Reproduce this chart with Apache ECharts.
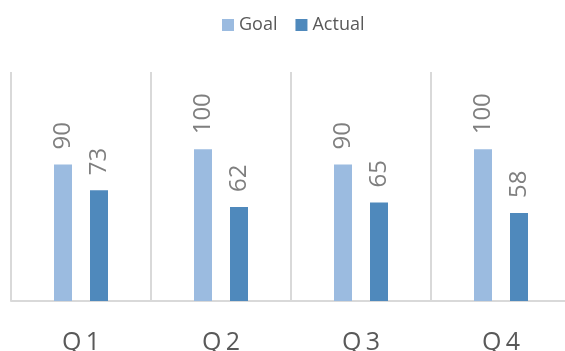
<!DOCTYPE html>
<html><head><meta charset="utf-8">
<script src="https://cdn.jsdelivr.net/npm/echarts@6/dist/echarts.min.js"></script>
<style>html,body{margin:0;padding:0;background:#fff}#c{width:565px;height:351px}</style>
</head><body><div id="c"></div>
<script>
var categories = ['Q1', 'Q2', 'Q3', 'Q4'];
var goal = [90, 100, 90, 100];
var actual = [73, 62, 65, 58];
var chart = echarts.init(document.getElementById('c'), null, {renderer: 'canvas'});
var lbl = {show: true, position: 'top', rotate: 90, align: 'left', verticalAlign: 'middle', distance: 15,
  color: '#7f7f7f', fontSize: 24, fontFamily: 'Open Sans'};
chart.setOption({
  animation: false,
  legend: {top: 11, left: 217, itemWidth: 12, itemHeight: 12, itemGap: 18,
    icon: 'rect', textStyle: {color: '#595959', fontSize: 18, fontFamily: 'Open Sans'},
    data: ['Goal', 'Actual']},
  grid: {left: 11, right: -6, top: 72, bottom: 50, containLabel: false, outerBoundsMode: 'none'},
  xAxis: {type: 'category', data: categories,
    axisLine: {lineStyle: {color: '#d9d9d9', width: 2}},
    axisTick: {show: false},
    splitLine: {show: true, lineStyle: {color: '#d9d9d9', width: 2}},
    axisLabel: {color: '#595959', fontSize: 25, fontFamily: 'Open Sans', margin: 29,
      formatter: function (v) { return v.charAt(0) + '\u2009' + v.slice(1); }}},
  yAxis: {type: 'value', min: 0, max: 151, show: false, splitLine: {show: false}},
  series: [
    {name: 'Goal', type: 'bar', data: goal, barWidth: 18, barGap: '100%',
      itemStyle: {color: '#9bbbe0'}, label: lbl},
    {name: 'Actual', type: 'bar', data: actual, barWidth: 18,
      itemStyle: {color: '#4f89bc'}, label: lbl}
  ]
});
</script></body></html>
